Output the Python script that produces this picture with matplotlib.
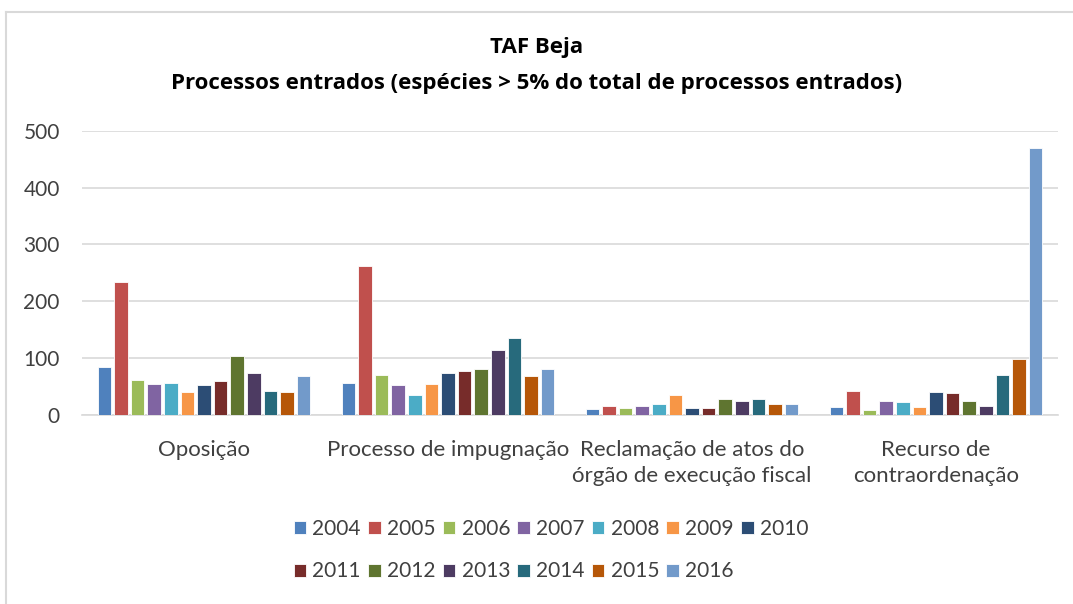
import numpy as np
import matplotlib.pyplot as plt

plt.rcParams['font.family'] = ['Lato', 'DejaVu Sans']

# --- dados ---
categorias = ['Oposição', 'Processo de impugnação',
              'Reclamação de atos do\nórgão de execução fiscal',
              'Recurso de\ncontraordenação']
anos = ['2004', '2005', '2006', '2007', '2008', '2009', '2010',
        '2011', '2012', '2013', '2014', '2015', '2016']
# valores por ano: [Oposição, Impugnação, Reclamação, Contraordenação]
valores = {
    '2004': [84, 57, 10, 14],
    '2005': [234, 262, 16, 43],
    '2006': [62, 70, 12, 9],
    '2007': [55, 52, 16, 25],
    '2008': [57, 36, 19, 23],
    '2009': [41, 55, 36, 14],
    '2010': [52, 73, 12, 41],
    '2011': [59, 77, 12, 39],
    '2012': [104, 81, 28, 25],
    '2013': [74, 114, 25, 16],
    '2014': [43, 136, 28, 70],
    '2015': [41, 68, 19, 99],
    '2016': [68, 81, 19, 469],
}
cores = ['#4F81BD', '#C0504D', '#9BBB59', '#8064A2', '#4BACC6', '#F79646',
         '#2C4D75', '#772C2A', '#5F7530', '#4D3B62', '#276A7C', '#B65708',
         '#729ACA']

fig = plt.figure(figsize=(10.73, 6.04), dpi=100)
W, H = 1073, 604
ax = fig.add_axes([82 / W, (H - 415) / H, (1058 - 82) / W, (415 - 130.7) / H])

x = np.arange(len(categorias))
passo = 0.068
largura = 0.056
n = len(anos)
for i, ano in enumerate(anos):
    desloc = (i - (n - 1) / 2) * passo
    ax.bar(x + desloc, valores[ano], width=largura, color=cores[i],
           edgecolor='white', linewidth=0.6, zorder=3, label=ano)

ax.set_xlim(-0.5, len(categorias) - 0.5)
ax.set_ylim(0, 500)
ax.set_yticks(range(0, 501, 100))
ax.yaxis.grid(True, color='#D9D9D9', linewidth=1.2, zorder=0)
for s in ['top', 'right', 'left']:
    ax.spines[s].set_visible(False)
ax.spines['bottom'].set_color('#D9D9D9')
ax.spines['bottom'].set_linewidth(1.2)
ax.tick_params(axis='both', length=0, colors='#404040')
ax.tick_params(axis='y', pad=16, labelsize=15)
ax.tick_params(axis='x', pad=18, labelsize=16)
ax.set_xticks(x)
ax.set_xticklabels(categorias, va='top', linespacing=1.4)

titulo_fonte = ['Open Sans', 'DejaVu Sans']
fig.text(0.5, (H - 48) / H, 'TAF Beja', ha='center', va='center',
         fontsize=16, fontweight='bold', color='black', family=titulo_fonte)
fig.text(0.5, (H - 83) / H,
         'Processos entrados (espécies > 5% do total de processos entrados)',
         ha='center', va='center', fontsize=16, fontweight='bold', color='black',
         family=titulo_fonte)

# legenda em duas linhas (ordem por linha)
handles, labels = ax.get_legend_handles_labels()
ordem = [0, 7, 1, 8, 2, 9, 3, 10, 4, 11, 5, 12, 6]
leg = fig.legend([handles[k] for k in ordem], [labels[k] for k in ordem],
                 ncol=7, loc='center', bbox_to_anchor=(551 / W, (H - 550) / H),
                 frameon=False, fontsize=15, handlelength=0.6, handleheight=0.6,
                 handletextpad=0.3, columnspacing=0.35, labelspacing=1.1)
for t in leg.get_texts():
    t.set_color('#404040')

# moldura do gráfico
fig.add_artist(plt.Line2D([6 / W, 6 / W], [0, (H - 12) / H], color='#D9D9D9', lw=1.5))
fig.add_artist(plt.Line2D([6 / W, 1], [(H - 12) / H, (H - 12) / H], color='#D9D9D9', lw=1.5))

fig.savefig('out.png', dpi=100)
